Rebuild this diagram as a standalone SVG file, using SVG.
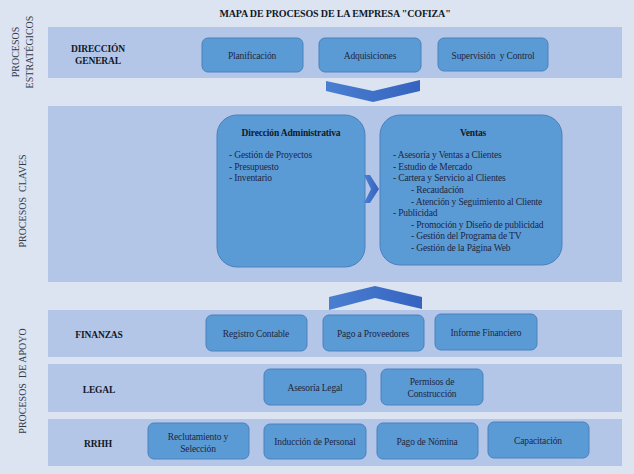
<svg xmlns="http://www.w3.org/2000/svg" width="634" height="474" viewBox="0 0 634 474">
<defs>
<linearGradient id="chev" x1="0" y1="0" x2="1" y2="0">
<stop offset="0" stop-color="#4a7fd0"/>
<stop offset="1" stop-color="#3563c0"/>
</linearGradient>
<style>
.band{fill:#b4c6e7}
.box{fill:#5b9bd5;stroke:#4a80bd;stroke-width:1}
.t{font-family:"Liberation Serif","Times New Roman",serif;fill:#1f2640;font-size:9.5px;letter-spacing:-0.15px}
.c{text-anchor:middle}
.b{font-weight:bold;fill:#111827}
.side{font-family:"Liberation Serif","Times New Roman",serif;fill:#333a4a;font-size:10px;text-anchor:middle}
.chev{fill:url(#chev)}
</style>
</defs>
<rect width="634" height="474" fill="#dce4f2"/>
<text class="t b c" x="335" y="17" style="font-size:10px">MAPA DE PROCESOS DE LA EMPRESA "COFIZA"</text>

<g id="bands">
<rect class="band" x="48" y="27" width="574" height="51"/>
<rect class="band" x="48" y="106" width="574" height="176"/>
<rect class="band" x="48" y="310" width="574" height="47"/>
<rect class="band" x="48" y="364" width="574" height="48"/>
<rect class="band" x="48" y="419" width="574" height="47"/>
</g>

<g id="side-labels">
<text class="side" transform="translate(19,52) rotate(-90)">PROCESOS</text>
<text class="side" transform="translate(33,52) rotate(-90)">ESTRATÉGICOS</text>
<text class="side" transform="translate(26,201) rotate(-90)" xml:space="preserve">PROCESOS  CLAVES</text>
<text class="side" transform="translate(26,381) rotate(-90)" xml:space="preserve">PROCESOS  DE APOYO</text>
</g>

<g id="area-labels">
<text class="t b c" x="98" y="52">DIRECCIÓN</text>
<text class="t b c" x="98" y="64">GENERAL</text>
<text class="t b c" x="99" y="338">FINANZAS</text>
<text class="t b c" x="99" y="393">LEGAL</text>
<text class="t b c" x="98" y="447">RRHH</text>
</g>

<g id="planificacion"><rect class="box" x="202" y="38" width="101" height="34" rx="6"/><text class="t c" x="252" y="59">Planificación</text></g>
<g id="adquisiciones"><rect class="box" x="319" y="38" width="102" height="34" rx="6"/><text class="t c" x="370" y="59">Adquisiciones</text></g>
<g id="supervision"><rect class="box" x="438" y="38" width="110" height="33" rx="6"/><text class="t c" x="493" y="59" xml:space="preserve">Supervisión  y Control</text></g>

<g id="direccion-administrativa">
<rect class="box" x="217" y="115" width="148" height="152" rx="20"/>
<text class="t b c" x="291" y="136">Dirección Administrativa</text>
<text class="t" x="229" y="158">- Gestión de Proyectos</text>
<text class="t" x="229" y="170">- Presupuesto</text>
<text class="t" x="229" y="181">- Inventario</text>
</g>

<g id="ventas">
<rect class="box" x="380" y="115" width="182" height="150" rx="20"/>
<text class="t b c" x="473" y="136">Ventas</text>
<text class="t" x="393" y="158">- Asesoría y Ventas a Clientes</text>
<text class="t" x="393" y="170">- Estudio de Mercado</text>
<text class="t" x="393" y="181">- Cartera y Servicio al Clientes</text>
<text class="t" x="411" y="193">- Recaudación</text>
<text class="t" x="411" y="205">- Atención y Seguimiento al Cliente</text>
<text class="t" x="393" y="216">- Publicidad</text>
<text class="t" x="411" y="228">- Promoción y Diseño de publicidad</text>
<text class="t" x="411" y="239">- Gestión del Programa de TV</text>
<text class="t" x="411" y="251">- Gestión de la Página Web</text>
</g>

<g id="registro-contable"><rect class="box" x="206" y="315" width="101" height="36" rx="6"/><text class="t c" x="256" y="337">Registro Contable</text></g>
<g id="pago-proveedores"><rect class="box" x="323" y="315" width="101" height="36" rx="6"/><text class="t c" x="373" y="337">Pago a Proveedores</text></g>
<g id="informe-financiero"><rect class="box" x="435" y="314" width="102" height="36" rx="6"/><text class="t c" x="486" y="336">Informe Financiero</text></g>

<g id="asesoria-legal"><rect class="box" x="264" y="369" width="102" height="36" rx="6"/><text class="t c" x="315" y="391">Asesoría Legal</text></g>
<g id="permisos"><rect class="box" x="381" y="369" width="102" height="36" rx="6"/><text class="t c" x="432" y="385">Permisos de</text><text class="t c" x="432" y="397">Construcción</text></g>

<g id="reclutamiento"><rect class="box" x="148" y="423" width="101" height="36" rx="6"/><text class="t c" x="198" y="440">Reclutamiento y</text><text class="t c" x="198" y="452">Selección</text></g>
<g id="induccion"><rect class="box" x="264" y="424" width="102" height="35" rx="6"/><text class="t c" x="315" y="445">Inducción de Personal</text></g>
<g id="pago-nomina"><rect class="box" x="377" y="423" width="101" height="36" rx="6"/><text class="t c" x="427" y="445">Pago de Nómina</text></g>
<g id="capacitacion"><rect class="box" x="488" y="422" width="101" height="36" rx="6"/><text class="t c" x="538" y="444">Capacitación</text></g>

<g id="connectors">
<polygon class="chev" points="326,81 373,91 420,80 420,91 373,102 326,91"/>
<polygon class="chev" points="329,297 375,286 422,297 422,309 375,298 329,310"/>
<polygon class="chev" points="364,175 370,175 379,189 370,203 364,203 371,189"/>
</g>
</svg>
